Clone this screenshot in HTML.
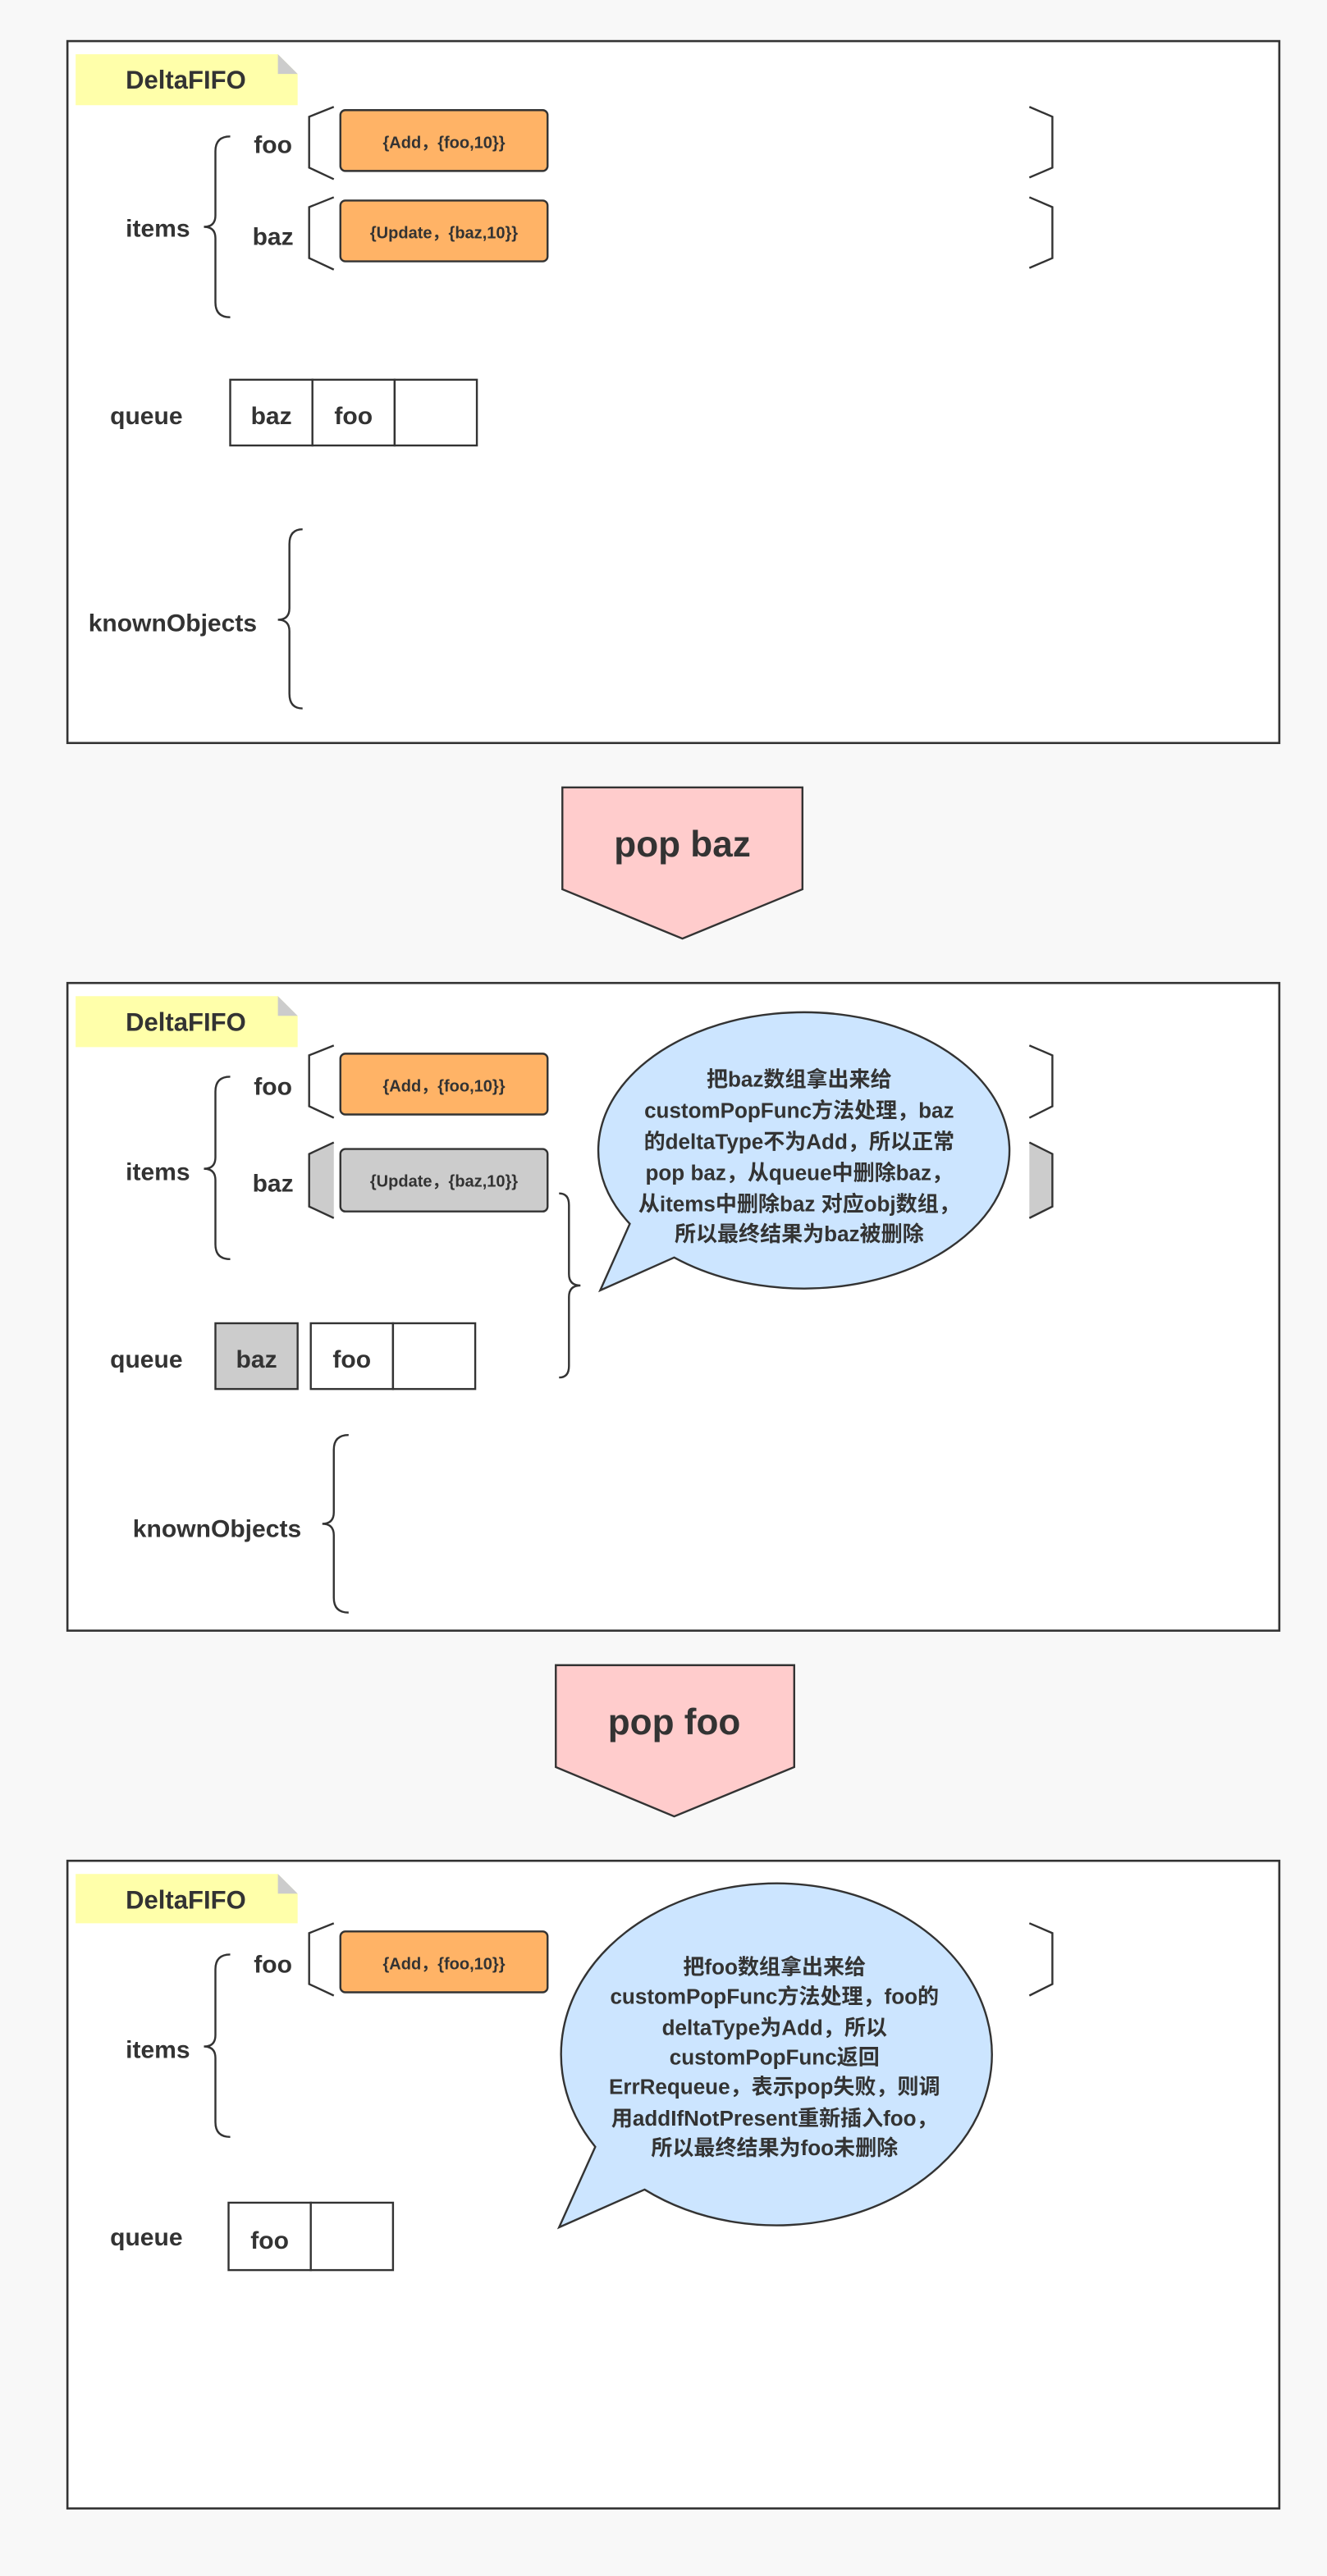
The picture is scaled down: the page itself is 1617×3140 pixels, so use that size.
<!DOCTYPE html>
<html><head><meta charset="utf-8"><style>
html,body{margin:0;padding:0;background:#f8f8f8;}
svg{display:block;}
text{font-family:"Liberation Sans","Noto Sans CJK SC",sans-serif;font-weight:bold;fill:#333;}
</style></head><body>
<svg width="1617" height="3140" viewBox="0 0 807 1567.1" xmlns="http://www.w3.org/2000/svg">
<rect x="0" y="0" width="807" height="1568" fill="#f8f8f8"/>

<!-- ===== Panel 1 ===== -->
<rect x="41" y="25" width="737" height="427" fill="#fff" stroke="#333" stroke-width="1.3"/>
<path d="M46,33 H169 L181,45 V64 H46 Z" fill="#ffffaa"/>
<path d="M169,33 L181,45 H169 Z" fill="#ccc"/>
<text x="113" y="54" font-size="15.5" text-anchor="middle">DeltaFIFO</text>
<path d="M140,83 Q131,83 131,92 V131 Q131,138 124,138 Q131,138 131,145 V184 Q131,193 140,193" fill="none" stroke="#333" stroke-width="1.2"/>
<text x="96" y="144" font-size="15" text-anchor="middle">items</text>
<text x="166" y="93" font-size="15" text-anchor="middle">foo</text>
<text x="166" y="149" font-size="15" text-anchor="middle">baz</text>
<path d="M203,65 L188,71 V102 L203,109" fill="none" stroke="#333" stroke-width="1.2"/>
<rect x="207" y="67" width="126" height="37" rx="3" fill="#ffb366" stroke="#333" stroke-width="1.2"/>
<text x="270" y="90" font-size="10" text-anchor="middle">{Add，{foo,10}}</text>
<path d="M626,65 L640,71 V102 L626,108" fill="none" stroke="#333" stroke-width="1.2"/>
<path d="M203,120 L188,126 V157 L203,164" fill="none" stroke="#333" stroke-width="1.2"/>
<rect x="207" y="122" width="126" height="37" rx="3" fill="#ffb366" stroke="#333" stroke-width="1.2"/>
<text x="270" y="145" font-size="10" text-anchor="middle">{Update，{baz,10}}</text>
<path d="M626,120 L640,126 V157 L626,163" fill="none" stroke="#333" stroke-width="1.2"/>
<text x="89" y="258" font-size="15" text-anchor="middle">queue</text>
<rect x="140" y="231" width="50" height="40" fill="#fff" stroke="#333" stroke-width="1.2"/>
<rect x="190" y="231" width="50" height="40" fill="#fff" stroke="#333" stroke-width="1.2"/>
<rect x="240" y="231" width="50" height="40" fill="#fff" stroke="#333" stroke-width="1.2"/>
<text x="165" y="258" font-size="15" text-anchor="middle">baz</text>
<text x="215" y="258" font-size="15" text-anchor="middle">foo</text>
<text x="105" y="384" font-size="15" text-anchor="middle">knownObjects</text>
<path d="M184,322 Q176,322 176,331 V370 Q176,377 169,377 Q176,377 176,384 V422 Q176,431 184,431" fill="none" stroke="#333" stroke-width="1.2"/>

<!-- arrow 1 -->
<path d="M342,479 H488 V541 L415,571 L342,541 Z" fill="#ffcccc" stroke="#333" stroke-width="1.2"/>
<text x="415" y="521" font-size="22" text-anchor="middle">pop baz</text>

<!-- ===== Panel 2 ===== -->
<rect x="41" y="598" width="737" height="394" fill="#fff" stroke="#333" stroke-width="1.3"/>
<path d="M46,606 H169 L181,618 V637 H46 Z" fill="#ffffaa"/>
<path d="M169,606 L181,618 H169 Z" fill="#ccc"/>
<text x="113" y="627" font-size="15.5" text-anchor="middle">DeltaFIFO</text>
<path d="M140,655 Q131,655 131,664 V704 Q131,711 124,711 Q131,711 131,718 V757 Q131,766 140,766" fill="none" stroke="#333" stroke-width="1.2"/>
<text x="96" y="718" font-size="15" text-anchor="middle">items</text>
<text x="166" y="666" font-size="15" text-anchor="middle">foo</text>
<text x="166" y="725" font-size="15" text-anchor="middle">baz</text>
<path d="M203,636 L188,642 V673 L203,680" fill="none" stroke="#333" stroke-width="1.2"/>
<rect x="207" y="641" width="126" height="37" rx="3" fill="#ffb366" stroke="#333" stroke-width="1.2"/>
<text x="270" y="664" font-size="10" text-anchor="middle">{Add，{foo,10}}</text>
<path d="M626,636 L640,642 V673 L626,680" fill="none" stroke="#333" stroke-width="1.2"/>
<path d="M203,695 L188,702 V734 L203,741 Z" fill="#ccc"/>
<path d="M203,695 L188,702 V734 L203,741" fill="none" stroke="#333" stroke-width="1.2"/>
<rect x="207" y="699" width="126" height="38" rx="3" fill="#ccc" stroke="#333" stroke-width="1.2"/>
<text x="270" y="722" font-size="10" text-anchor="middle">{Update，{baz,10}}</text>
<path d="M626,695 L640,702 V734 L626,741 Z" fill="#ccc"/>
<path d="M626,695 L640,702 V734 L626,741" fill="none" stroke="#333" stroke-width="1.2"/>
<path d="M340,726 Q346,726 346,733 V775 Q346,782 353,782 Q346,782 346,789 V831 Q346,838 340,838" fill="none" stroke="#333" stroke-width="1.2"/>
<text x="89" y="832" font-size="15" text-anchor="middle">queue</text>
<rect x="131" y="805" width="50" height="40" fill="#ccc" stroke="#333" stroke-width="1.2"/>
<rect x="189" y="805" width="50" height="40" fill="#fff" stroke="#333" stroke-width="1.2"/>
<rect x="239" y="805" width="50" height="40" fill="#fff" stroke="#333" stroke-width="1.2"/>
<text x="156" y="832" font-size="15" text-anchor="middle">baz</text>
<text x="214" y="832" font-size="15" text-anchor="middle">foo</text>
<text x="132" y="935" font-size="15" text-anchor="middle">knownObjects</text>
<path d="M212,873 Q203,873 203,882 V920 Q203,927 196,927 Q203,927 203,934 V972 Q203,981 212,981" fill="none" stroke="#333" stroke-width="1.2"/>
<path d="M383,744.5 L365,785 L410,765 A125,84 0 1 0 383,744.5 Z" fill="#cce5ff" stroke="#333" stroke-width="1.2"/>
<g font-size="13" text-anchor="middle">
<text x="486" y="661">把baz数组拿出来给</text>
<text x="486" y="680">customPopFunc方法处理，baz</text>
<text x="486" y="699">的deltaType不为Add，所以正常</text>
<text x="486" y="718">pop baz，从queue中删除baz，</text>
<text x="486" y="737">从items中删除baz 对应obj数组，</text>
<text x="486" y="755">所以最终结果为baz被删除</text>
</g>

<!-- arrow 2 -->
<path d="M338,1013 H483 V1075 L410,1105 L338,1075 Z" fill="#ffcccc" stroke="#333" stroke-width="1.2"/>
<text x="410" y="1055" font-size="22" text-anchor="middle">pop foo</text>

<!-- ===== Panel 3 ===== -->
<rect x="41" y="1132" width="737" height="394" fill="#fff" stroke="#333" stroke-width="1.3"/>
<path d="M46,1140 H169 L181,1152 V1170 H46 Z" fill="#ffffaa"/>
<path d="M169,1140 L181,1152 H169 Z" fill="#ccc"/>
<text x="113" y="1161" font-size="15.5" text-anchor="middle">DeltaFIFO</text>
<path d="M140,1189 Q131,1189 131,1198 V1238 Q131,1245 124,1245 Q131,1245 131,1252 V1291 Q131,1300 140,1300" fill="none" stroke="#333" stroke-width="1.2"/>
<text x="96" y="1252" font-size="15" text-anchor="middle">items</text>
<text x="166" y="1200" font-size="15" text-anchor="middle">foo</text>
<path d="M203,1170 L188,1176 V1207 L203,1214" fill="none" stroke="#333" stroke-width="1.2"/>
<rect x="207" y="1175" width="126" height="37" rx="3" fill="#ffb366" stroke="#333" stroke-width="1.2"/>
<text x="270" y="1198" font-size="10" text-anchor="middle">{Add，{foo,10}}</text>
<path d="M626,1170 L640,1176 V1207 L626,1214" fill="none" stroke="#333" stroke-width="1.2"/>
<text x="89" y="1366" font-size="15" text-anchor="middle">queue</text>
<rect x="139" y="1340" width="50" height="41" fill="#fff" stroke="#333" stroke-width="1.2"/>
<rect x="189" y="1340" width="50" height="41" fill="#fff" stroke="#333" stroke-width="1.2"/>
<text x="164" y="1368" font-size="15" text-anchor="middle">foo</text>
<path d="M362,1306 L340,1355 L392,1332 A131,104 0 1 0 362,1306 Z" fill="#cce5ff" stroke="#333" stroke-width="1.2"/>
<g font-size="13" text-anchor="middle">
<text x="471" y="1201">把foo数组拿出来给</text>
<text x="471" y="1219">customPopFunc方法处理，foo的</text>
<text x="471" y="1238">deltaType为Add，所以</text>
<text x="471" y="1256">customPopFunc返回</text>
<text x="471" y="1274">ErrRequeue，表示pop失败，则调</text>
<text x="471" y="1293">用addIfNotPresent重新插入foo，</text>
<text x="471" y="1311">所以最终结果为foo未删除</text>
</g>
</svg>
</body></html>
